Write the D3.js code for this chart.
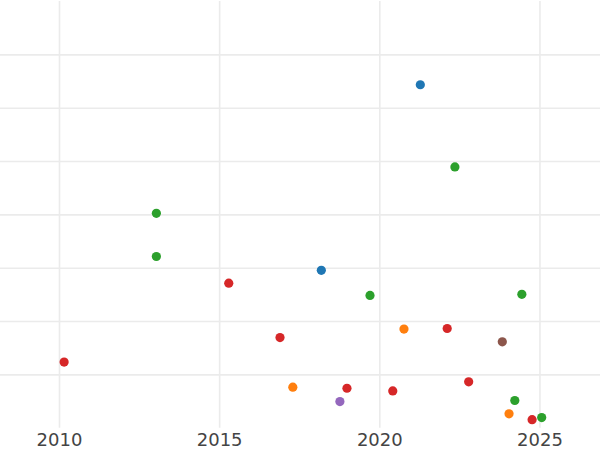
<!DOCTYPE html>
<html>
<head>
<meta charset="utf-8">
<script src="https://cdn.jsdelivr.net/npm/d3@7"></script>
<style>
  html, body { margin: 0; padding: 0; background: #fff; }
  svg { display: block; }
</style>
</head>
<body>
<svg id="chart" width="600" height="450"></svg>
<script>
// Data
const years  = [2021.28, 2022.36, 2013.04, 2013.04, 2018.19, 2015.30, 2019.71, 2024.45, 2020.77, 2022.12, 2023.84,
                2016.90, 2010.16, 2017.30, 2018.99, 2018.77, 2020.42, 2022.79, 2024.23, 2024.05, 2024.77, 2025.07];
const values = [6.43, 4.89, 4.02, 3.21, 2.95, 2.71, 2.48, 2.50, 1.85, 1.86, 1.61,
                1.69, 1.23, 0.76, 0.74, 0.49, 0.69, 0.86, 0.51, 0.26, 0.15, 0.19];
const groups = ["blue", "green", "green", "green", "blue", "red", "green", "green", "orange", "red", "brown",
                "red", "red", "orange", "red", "purple", "red", "red", "green", "orange", "red", "green"];
const categories = ["blue", "orange", "green", "red", "purple", "brown"];
const palette    = ["#1f77b4", "#ff7f0e", "#2ca02c", "#d62728", "#9467bd", "#8c564b"];
const xTicks = [2010, 2015, 2020, 2025];
const yTicks = [1, 2, 3, 4, 5, 6, 7];

const W = 600, H = 450;
const plot = { left: 0, right: 600, top: 1, bottom: 427.7 };

const svg = d3.select("#chart");
const x = d3.scaleLinear().domain([2008.158, 2026.89]).range([plot.left, plot.right]);
const y = d3.scaleLinear().domain([0, 8]).range([plot.bottom, plot.top]);
const color = d3.scaleOrdinal().domain(categories).range(palette);

// horizontal gridlines
const gy = svg.append("g")
  .attr("transform", `translate(${plot.left},0)`)
  .call(d3.axisLeft(y).tickValues(yTicks).tickSize(-(plot.right - plot.left)).tickFormat(""));
gy.select(".domain").remove();
gy.selectAll(".tick line").attr("stroke", "#ebebeb").attr("stroke-width", 1.6);

// vertical gridlines
const gx = svg.append("g")
  .attr("transform", `translate(0,${plot.bottom})`)
  .call(d3.axisBottom(x).tickValues(xTicks).tickSize(-(plot.bottom - plot.top)).tickFormat(""));
gx.select(".domain").remove();
gx.selectAll(".tick line").attr("stroke", "#ebebeb").attr("stroke-width", 1.6);

// x tick labels
const gl = svg.append("g")
  .attr("transform", `translate(0,${plot.bottom})`)
  .call(d3.axisBottom(x).tickValues(xTicks).tickSize(0).tickPadding(6).tickFormat(d3.format("d")));
gl.select(".domain").remove();
gl.selectAll(".tick text")
  .attr("fill", "#444")
  .style("font-family", "'DejaVu Sans', sans-serif")
  .style("font-size", "18px");

// points
svg.append("g")
  .selectAll("circle")
  .data(years.map((d, i) => ({ year: d, value: values[i], group: groups[i] })))
  .join("circle")
  .attr("cx", d => x(d.year))
  .attr("cy", d => y(d.value))
  .attr("r", 4.6)
  .attr("fill", d => color(d.group));
</script>
</body>
</html>
